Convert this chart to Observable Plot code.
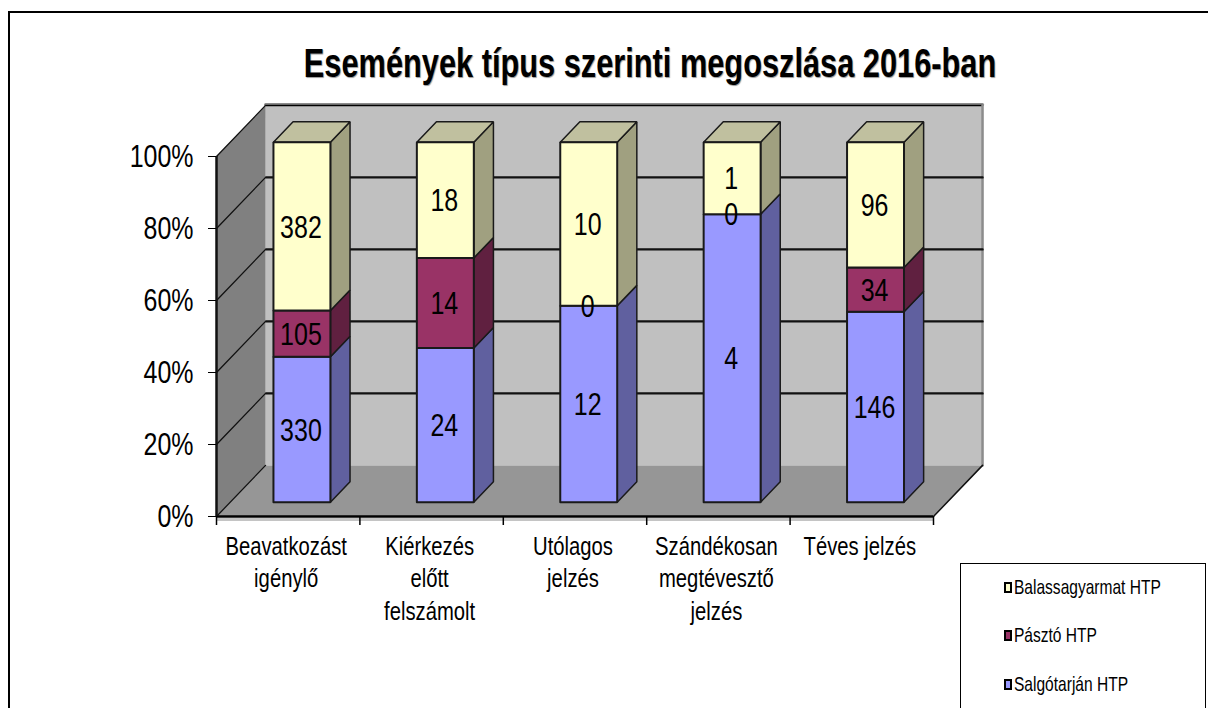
<!DOCTYPE html>
<html lang="hu">
<head>
<meta charset="utf-8">
<script src="https://cdn.jsdelivr.net/npm/d3@7"></script>
<script src="https://cdn.jsdelivr.net/npm/@observablehq/plot@0.6"></script>
<style>
html,body{margin:0;padding:0;background:#fff;overflow:hidden;width:1208px;height:708px}
body{position:relative;font-family:"Liberation Sans",Arial,sans-serif;color:#000}
#frame{position:absolute;left:8px;top:11px;right:-4px;bottom:-4px;border:2px solid #000;z-index:0}
#title{position:absolute;left:150px;top:40px;width:1000px;text-align:center;font-weight:bold;font-size:40px;line-height:46px;white-space:nowrap;text-shadow:1px 1px 1px #999;z-index:2;transform:scaleX(.769);transform-origin:center}
#chart{position:absolute;left:0;top:0;z-index:1}
#legend{position:absolute;left:960px;top:563px;width:244px;height:160px;border:1px solid #000;background:#fff;z-index:2}
.row{position:absolute;left:43px;display:flex;align-items:center;font-size:21px;line-height:24px;white-space:nowrap}
.sw{width:4px;height:7px;border:2px solid #000;margin-right:2px;flex:none}
.lab{display:inline-block;transform:scaleX(.74);transform-origin:left center}
</style>
</head>
<body>
<div id="frame"></div>
<div id="chart"></div>
<div id="title">Események típus szerinti megoszlása 2016-ban</div>
<div id="legend"></div>
<script>
const categories = ["Beavatkozást\nigénylő", "Kiérkezés\nelőtt\nfelszámolt", "Utólagos\njelzés", "Szándékosan\nmegtévesztő\njelzés", "Téves jelzés"];
const salgotarjan = [330, 24, 12, 4, 146];
const paszto = [105, 14, 0, 0, 34];
const balassagyarmat = [382, 18, 10, 1, 96];
const percentTicks = [0, 20, 40, 60, 80, 100];
const seriesNames = ["Balassagyarmat HTP", "Pásztó HTP", "Salgótarján HTP"];

const look = [
  {values: salgotarjan, front: "#9999ff", side: "#60609f"},
  {values: paszto, front: "#993366", side: "#602040"},
  {values: balassagyarmat, front: "#ffffcc", side: "#a0a080", top: "#c0c09f"}
];
const font = '"Liberation Sans",Arial,sans-serif';
// oblique projection: depth 1 = full floor depth
const DX = 0.342, DY = 14.2;
const P = (c, p, d = 0) => ({x: c + d * DX, y: p + d * DY});
const poly = (pts, fill, stroke, strokeWidth) =>
  Plot.line([...pts, pts[0]], {x: "x", y: "y", fill, stroke, strokeWidth, strokeLinejoin: "miter"});

const marks = [];
// back wall, floor, side wall
marks.push(poly([P(0,0,1), P(5,0,1), P(5,100,1), P(0,100,1)], "#c0c0c0", "none"));
marks.push(Plot.line([P(0,100,1), P(5,100,1)], {x:"x", y:"y", stroke:"#8c8c8c", strokeWidth:3, dy:-1}));
marks.push(Plot.line([P(0,100,1), P(5,100,1)], {x:"x", y:"y", stroke:"#000", strokeWidth:1.5}));
marks.push(Plot.line([P(5,100,1), P(5,0,1)], {x:"x", y:"y", stroke:"#8c8c8c", strokeWidth:2.5}));
for (const t of percentTicks.slice(1, -1))
  marks.push(Plot.line([P(0,t,1), P(5,t,1)], {x:"x", y:"y", stroke:"#111", strokeWidth:2.4}));
marks.push(poly([P(0,0,0), P(0,100,0), P(0,100,1), P(0,0,1)], "#808080", "none"));
marks.push(poly([P(0,0,0), P(5,0,0), P(5,0,1), P(0,0,1)], "#969696", "none"));
for (const t of percentTicks)
  marks.push(Plot.line([P(0,t,0), P(0,t,1)], {x:"x", y:"y", stroke:"#111", strokeWidth:1.3}));
marks.push(Plot.line([P(5,0,0), P(5,0,1)], {x:"x", y:"y", stroke:"#111", strokeWidth:1.5}));

// bars
const D0 = 0.28, D1 = 0.68, HW = 0.1986;
const labels = [];
categories.forEach((_, i) => {
  const total = salgotarjan[i] + paszto[i] + balassagyarmat[i];
  const cx = i + 0.5, l = cx - HW, r = cx + HW;
  let acc = 0;
  look.forEach(s => {
    const a = acc / total * 100;
    acc += s.values[i];
    const b = acc / total * 100;
    labels.push({...P(cx, (a + b) / 2, D0), text: String(s.values[i])});
    if (b <= a) return;
    marks.push(poly([P(r,a,D0), P(r,a,D1), P(r,b,D1), P(r,b,D0)], s.side, "#1a1a1a", 1.5));
    if (s.top) marks.push(poly([P(l,b,D0), P(r,b,D0), P(r,b,D1), P(l,b,D1)], s.top, "#1a1a1a", 1.5));
    marks.push(poly([P(l,a,D0), P(r,a,D0), P(r,b,D0), P(l,b,D0)], s.front, "#1a1a1a", 2));
  });
});
marks.push(Plot.text(labels, {x:"x", y:"y", text:"text", fontSize:32, fontFamily:font, fill:"#000", dx:-1, dy:1}));

// axes
marks.push(Plot.ruleY([0], {stroke:"#c4c4c4", strokeWidth:3, dy:3}));
marks.push(Plot.ruleY([0], {stroke:"#000", strokeWidth:2.5}));
marks.push(Plot.ruleX([0], {stroke:"#111", strokeWidth:2.5}));
marks.push(Plot.axisY({ticks: percentTicks, tickFormat: d => d + "%", tickSize: 8, tickPadding: 15, fontSize: 32, fontFamily: font, label: null, fill:"#000"}));
marks.push(Plot.axisX({ticks: [0,1,2,3,4,5], tickFormat: () => "", tickSize: 9, strokeWidth: 1.5, stroke:"#000", label: null}));
marks.push(Plot.axisX({ticks: categories.map((_, i) => i + 0.5), tickFormat: d => categories[d - 0.5], tickSize: 0, tickPadding: 15, fontSize: 25, fontFamily: font, lineHeight: 1.3, label: null, fill:"#000", dx: -2}));

const chart = Plot.plot({
  width: 1208, height: 708,
  marginLeft: 216, marginRight: 275, marginTop: 156, marginBottom: 192,
  style: {background: "transparent", overflow: "visible"},
  x: {domain: [0, 5]},
  y: {domain: [0, 100]},
  marks
});
document.getElementById("chart").append(chart);

// no narrow face is installed: condense the drawn text to the reference's proportions
chart.querySelectorAll("text, tspan").forEach(el => {
  if (el.querySelector("tspan") || !el.textContent) return;
  const len = el.getComputedTextLength();
  if (!len) return;
  const fs = parseFloat(getComputedStyle(el).fontSize);
  const k = fs === 25 ? 0.81 : 0.78;
  el.setAttribute("textLength", len * k);
  el.setAttribute("lengthAdjust", "spacingAndGlyphs");
});

// legend
const legend = document.getElementById("legend");
const swatches = ["#ffffcc", "#993366", "#9999ff"];
const tops = [11, 59, 108];
seriesNames.forEach((n, i) => {
  const row = document.createElement("div");
  row.className = "row";
  row.style.top = tops[i] + "px";
  const sw = document.createElement("span");
  sw.className = "sw";
  sw.style.background = swatches[i];
  const lab = document.createElement("span");
  lab.className = "lab";
  lab.textContent = n;
  row.append(sw, lab);
  legend.append(row);
});
</script>
</body>
</html>
